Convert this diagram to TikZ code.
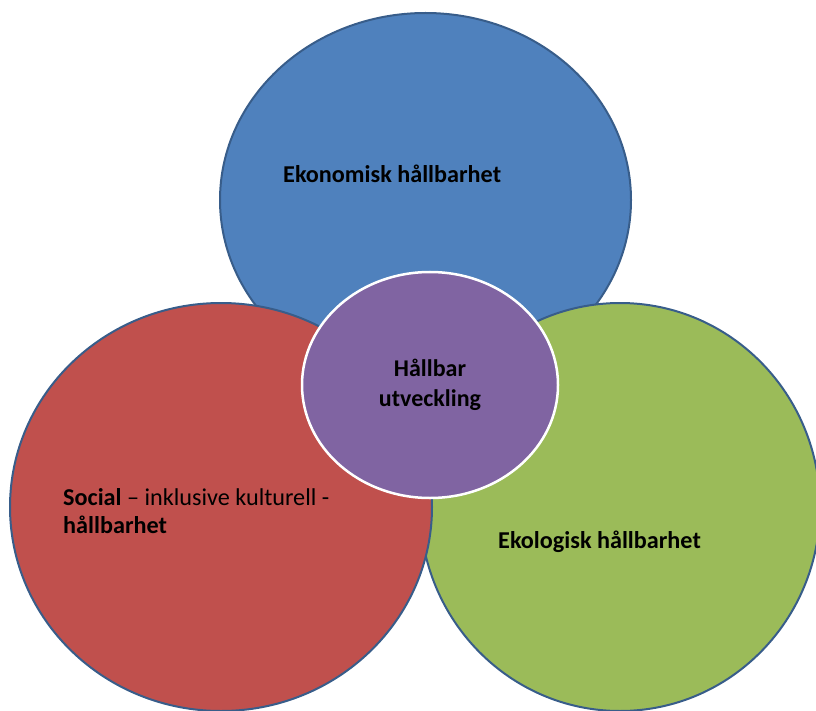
\documentclass[tikz,border=0pt]{standalone}
\usepackage{fontspec}
\setmainfont{Carlito}
\usepackage{tikz}
\usetikzlibrary{shapes.geometric}
\usetikzlibrary{positioning}
\definecolor{rim}{HTML}{385D8A}
\definecolor{ekoblue}{HTML}{4F81BD}
\definecolor{socred}{HTML}{C0504D}
\definecolor{ekogreen}{HTML}{9BBB59}
\definecolor{hbpurple}{HTML}{8064A2}
\tikzset{	pillar/.style={
		ellipse,
		draw=rim,
		line width=2pt,
		inner sep=0pt},
	core/.style={
		ellipse,
		draw=white,
		line width=2.5pt,
		fill=hbpurple,
		align=center,
		font=\fontsize{24}{30}\selectfont\bfseries},
	pillartext/.style={
		anchor=base west,
		inner sep=0pt,
		font=\fontsize{24.2}{28}\selectfont}
}

\begin{document}
\begin{tikzpicture}[x=1pt, y=-1pt]
	\useasboundingbox (0,0) rectangle (816,711);
	
	\node[pillar, fill=ekoblue, minimum width=411pt, minimum height=374pt] (eko) at (425.5,200) {};
	\node[pillar, fill=ekogreen, minimum width=400pt, minimum height=408pt] (ekol) at (620,507) {};
	\node[pillar, fill=socred, minimum width=422pt, minimum height=408pt] (soc) at (221,507) {};
	\node[core, minimum width=256pt, minimum height=226pt] (hb) at (430,385) {Hållbar\\utveckling};
	
	\node[pillartext] (ekotext) at (283,183) {\textbf{Ekonomisk hållbarhet}};
	\node[pillartext] (soctext) at (63,505) {\textbf{Social} – inklusive kulturell -};
	\node[pillartext] (soctext2) at (63,533) {\textbf{hållbarhet}};
	\node[pillartext] (ekoltext) at (498,548) {\textbf{Ekologisk hållbarhet}};
	
\end{tikzpicture}
\end{document}
